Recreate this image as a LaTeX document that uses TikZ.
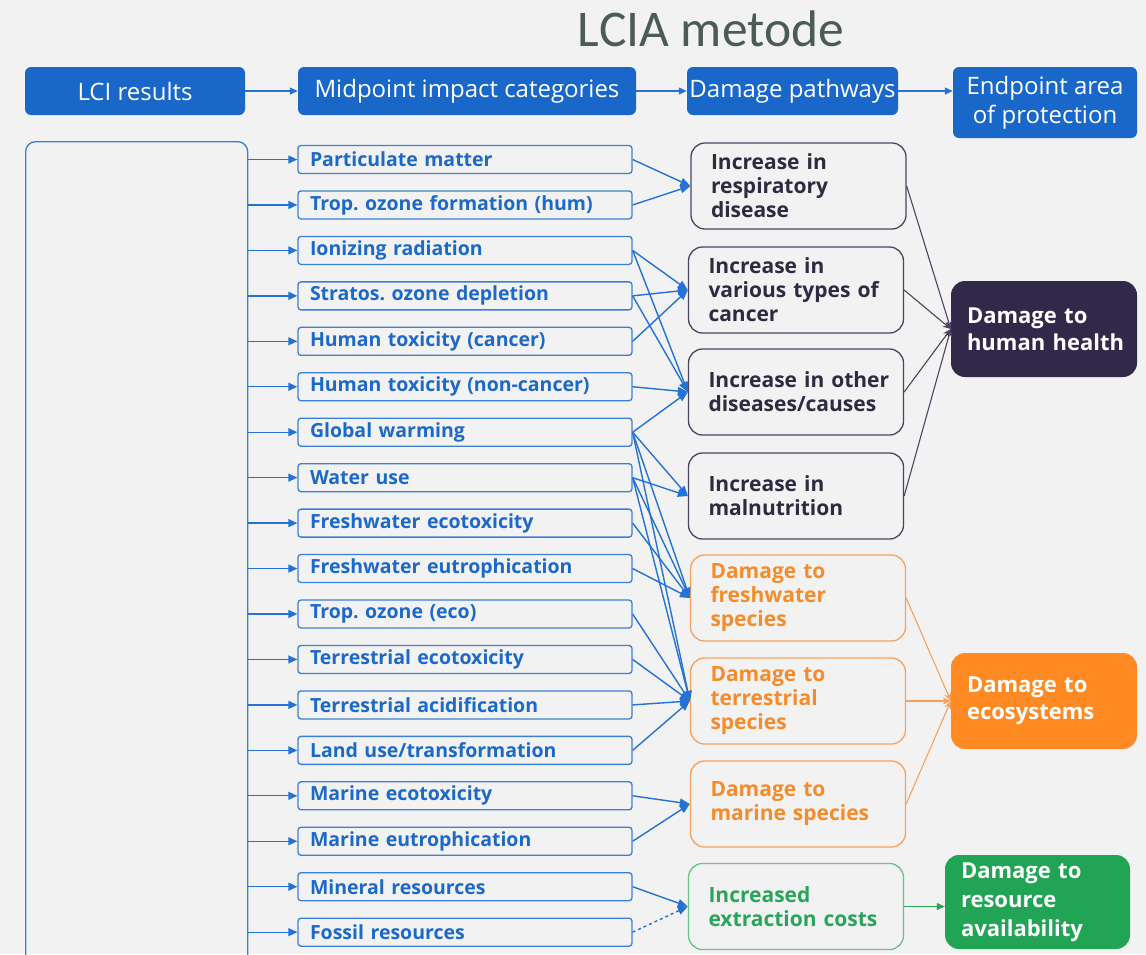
\documentclass[tikz,border=0pt]{standalone}
\usepackage{fontspec}
\setmainfont{Open Sans}
\newfontfamily\titlefont{Carlito}
\usetikzlibrary{arrows.meta}
\frenchspacing
\definecolor{bg}{HTML}{F2F2F2}
\definecolor{hdrblue}{HTML}{1967C9}
\definecolor{midline}{HTML}{3A7FD5}
\definecolor{midtext}{HTML}{1C69C9}
\definecolor{conblue}{HTML}{2472D6}
\definecolor{darkline}{HTML}{4A4560}
\definecolor{darktext}{HTML}{2E2A40}
\definecolor{darkfill}{HTML}{32284A}
\definecolor{orline}{HTML}{F9A15A}
\definecolor{ortext}{HTML}{F58B2A}
\definecolor{orfill}{HTML}{FF8A24}
\definecolor{grline}{HTML}{6CC28A}
\definecolor{grtext}{HTML}{2AA45A}
\definecolor{grfill}{HTML}{22A455}
\definecolor{titlecol}{HTML}{4B5B57}
\begin{document}
\begin{tikzpicture}[x=1pt,y=-1pt,
  hdr/.style={fill=hdrblue, rounded corners=6pt, text=white, font=\fontsize{24}{29}\selectfont, minimum height=48pt, inner sep=0pt, align=center},
  mid/.style={draw=midline, line width=1.3pt, rounded corners=3pt, minimum height=28pt, text width=310pt, inner xsep=12pt, inner ysep=0pt, align=left, text=midtext, font=\fontsize{19.5}{22}\selectfont\bfseries},
  pw/.style={line width=1.3pt, rounded corners=14pt, minimum height=86pt, text width=195pt, inner xsep=10pt, inner ysep=0pt, align=left, execute at begin node={\leftskip=10pt\relax}, font=\fontsize{21}{24}\selectfont\bfseries},
  pwdark/.style={pw, draw=darkline, text=darktext},
  pwor/.style={pw, draw=orline, text=ortext},
  pwgr/.style={pw, draw=grline, text=grtext},
  endp/.style={rounded corners=14pt, text=white, text width=170pt, inner xsep=8pt, inner ysep=0pt, align=left, execute at begin node={\leftskip=8pt\relax}, minimum height=96pt, font=\fontsize{22}{27}\selectfont\bfseries},
  harrow/.style={draw=conblue, line width=1.3pt, -{Triangle[length=8pt,width=7pt]}},
  larrow/.style={draw=conblue, line width=1.3pt, -{Triangle[length=9pt,width=8pt]}},
  carrow/.style={draw=conblue, line width=1.4pt, -{Triangle[length=10pt,width=8pt]}},
  darrow/.style={draw=darkline, line width=1.1pt, -{Stealth[length=8pt,width=7pt]}},
  oarrow/.style={draw=orline, line width=1.1pt, -{Stealth[length=8pt,width=7pt]}},
  garrow/.style={draw=grtext, line width=1.1pt, -{Triangle[length=8pt,width=7pt]}}
]
\fill[bg] (0,0) rectangle (1146,954);
\useasboundingbox (0,0) rectangle (1146,954);
\clip (0,0) rectangle (1146,954);

% title
\node[font=\titlefont\fontsize{51.5}{52}\selectfont, text=titlecol, inner sep=0pt] (title) at (711,29) {LCIA metode};

% headers
\node[hdr, minimum width=220pt] (h1) at (135,91) {LCI results};
\node[hdr, minimum width=338pt] (h2) at (467,91) {Midpoint impact categories};
\node[hdr, minimum width=211pt] (h3) at (792.5,91) {Damage pathways};
\node[hdr, minimum width=184pt, minimum height=71pt] (h4) at (1045,102.5) {Endpoint area\\of protection};
\draw[harrow] (h1.east) -- (h2.west);
\draw[harrow] (h2.east) -- (h3.west);
\draw[harrow] (h3.east) -- (h3.east -| h4.west);

% big LCI box
\node[draw=midline, line width=1.3pt, rounded corners=10pt, minimum width=222pt, minimum height=900pt, anchor=north west, inner sep=0pt] (lci) at (25,141) {};

% midpoint categories
\foreach \i/\t in {1/Particulate matter, 2/Trop. ozone formation (hum), 3/Ionizing radiation, 4/Stratos. ozone depletion, 5/Human toxicity (cancer), 6/Human toxicity (non-cancer), 7/Global warming, 8/Water use, 9/Freshwater ecotoxicity, 10/Freshwater eutrophication, 11/Trop. ozone (eco), 12/Terrestrial ecotoxicity, 13/Terrestrial acidification, 14/{Land use/transformation}, 15/Marine ecotoxicity, 16/Marine eutrophication, 17/Mineral resources, 18/Fossil resources}{
  \node[mid] (m\i) at (465,{159.5+45.45*(\i-1)}) {\t};
  \draw[larrow] (lci.east |- m\i.west) -- (m\i.west);
}

% damage pathways
\node[pwdark] (p1) at (798.5,186) {Increase in\\respiratory\\disease};
\node[pwdark] (p2) at (796,290) {Increase in\\various types of\\cancer};
\node[pwdark] (p3) at (796,392) {Increase in other\\diseases/causes};
\node[pwdark] (p4) at (796,496) {Increase in\\malnutrition};
\node[pwor] (p5) at (798,598) {Damage to\\freshwater\\species};
\node[pwor] (p6) at (798,701) {Damage to\\terrestrial\\species};
\node[pwor] (p7) at (798,804) {Damage to\\marine species};
\node[pwgr] (p8) at (796,906.5) {Increased\\extraction costs};

% endpoints
\node[endp, fill=darkfill] (e1) at (1044,329) {Damage to\\human health};
\node[endp, fill=orfill] (e2) at (1044,701) {Damage to\\ecosystems};
\node[endp, fill=grfill, minimum height=94pt, text width=169pt, font=\fontsize{22}{29}\selectfont\bfseries] (e3) at (1037.5,902) {Damage to\\resource\\availability};

% midpoint -> pathway
\foreach \a/\b in {1/1, 2/1, 3/2, 3/3, 4/2, 4/3, 5/2, 6/3, 7/3, 7/4, 7/5, 7/6, 8/4, 8/5, 8/6, 9/5, 10/5, 11/6, 12/6, 13/6, 14/6, 15/7, 16/7, 17/8}{
  \draw[carrow] (m\a.east) -- (p\b.west);
}
\draw[carrow, dashed] (m18.east) -- (p8.west);

% pathway -> endpoint
\foreach \b in {1,2,3,4}{\draw[darrow] (p\b.east) -- (e1.west);}
\foreach \b in {5,6,7}{\draw[oarrow] (p\b.east) -- (e2.west);}
\draw[garrow] (p8.east) -- (p8.east -| e3.west);
\end{tikzpicture}
\end{document}
